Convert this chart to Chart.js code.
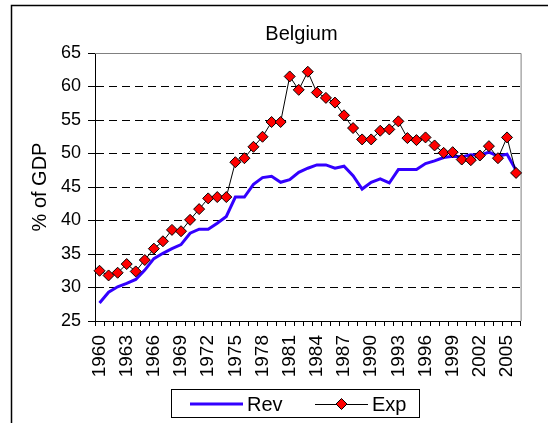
<!DOCTYPE html>
<html>
<head>
<meta charset="utf-8">
<script src="https://cdn.jsdelivr.net/npm/chart.js@4"></script>
<style>
  html, body { margin: 0; padding: 0; background: #fff; overflow: hidden; }
  canvas { display: block; }
</style>
</head>
<body>
<canvas id="myChart" width="548" height="423"></canvas>
<script>
const years = ["1960","1961","1962","1963","1964","1965","1966","1967","1968","1969",
  "1970","1971","1972","1973","1974","1975","1976","1977","1978","1979",
  "1980","1981","1982","1983","1984","1985","1986","1987","1988","1989",
  "1990","1991","1992","1993","1994","1995","1996","1997","1998","1999",
  "2000","2001","2002","2003","2004","2005","2006"];

const shownYears = ["1960","1963","1966","1969","1972","1975","1978","1981","1984",
  "1987","1990","1993","1996","1999","2002","2005"];

const rev = [27.7, 29.3, 30.1, 30.6, 31.2, 32.6, 34.3, 35.1, 35.8, 36.4,
  38.1, 38.7, 38.7, 39.6, 40.6, 43.5, 43.5, 45.4, 46.4, 46.6,
  45.7, 46.1, 47.2, 47.8, 48.3, 48.3, 47.8, 48.1, 46.7, 44.7,
  45.7, 46.2, 45.6, 47.6, 47.6, 47.6, 48.5, 48.9, 49.4, 49.6,
  49.5, 49.8, 49.7, 50.2, 49.6, 49.9, 47.5];

const exp = [32.5, 31.8, 32.2, 33.5, 32.4, 34.1, 35.8, 36.9, 38.6, 38.4,
  40.1, 41.7, 43.3, 43.5, 43.5, 48.7, 49.3, 51.0, 52.5, 54.7,
  54.7, 61.5, 59.5, 62.2, 59.1, 58.3, 57.6, 55.7, 53.8, 52.1,
  52.1, 53.4, 53.6, 54.8, 52.3, 52.0, 52.4, 51.2, 50.1, 50.2,
  49.1, 49.0, 49.7, 51.1, 49.3, 52.4, 47.1];

const yMin = 25;
const yMax = 65;
const yStep = 5;

const FONT = "'Liberation Sans', Arial, sans-serif";
const REV_COLOR = "#3300ff";
const EXP_FILL = "#ff0000";

// frame, title, plot border and boxed legend like the spreadsheet original
const decor = {
  id: "decor",
  beforeDatasetsDraw(chart) {
    const { ctx, chartArea: a } = chart;
    ctx.save();
    ctx.strokeStyle = "#808080";
    ctx.lineWidth = 1;
    ctx.beginPath();
    ctx.moveTo(a.left, a.top + 0.5);
    ctx.lineTo(a.right + 0.5, a.top + 0.5);
    ctx.lineTo(a.right + 0.5, a.bottom);
    ctx.stroke();
    ctx.restore();
  },
  afterDraw(chart) {
    const ctx = chart.ctx;
    ctx.save();
    // outer frame
    ctx.strokeStyle = "#000";
    ctx.lineWidth = 1.5;
    ctx.strokeRect(11.5, 5.5, 700, 600);

    // title
    ctx.fillStyle = "#000";
    ctx.font = "20px " + FONT;
    ctx.textAlign = "center";
    ctx.textBaseline = "alphabetic";
    ctx.fillText("Belgium", 301.5, 40);

    // legend
    ctx.lineWidth = 1;
    ctx.strokeStyle = "#000";
    ctx.strokeRect(171.5, 389.5, 248, 28);
    const ly = 404;
    ctx.strokeStyle = REV_COLOR;
    ctx.lineWidth = 3;
    ctx.beginPath();
    ctx.moveTo(190, ly);
    ctx.lineTo(243, ly);
    ctx.stroke();
    ctx.strokeStyle = "#000";
    ctx.lineWidth = 1;
    ctx.beginPath();
    ctx.moveTo(315, ly + 0.5);
    ctx.lineTo(368, ly + 0.5);
    ctx.stroke();
    ctx.fillStyle = EXP_FILL;
    ctx.beginPath();
    ctx.moveTo(341.5, ly - 5.5);
    ctx.lineTo(347, ly);
    ctx.lineTo(341.5, ly + 5.5);
    ctx.lineTo(336, ly);
    ctx.closePath();
    ctx.fill();
    ctx.stroke();
    ctx.fillStyle = "#000";
    ctx.font = "20px " + FONT;
    ctx.textAlign = "left";
    ctx.textBaseline = "middle";
    ctx.fillText("Rev", 247, ly + 1);
    ctx.fillText("Exp", 372, ly + 1);
    ctx.restore();
  }
};

new Chart(document.getElementById("myChart"), {
  type: "line",
  data: {
    labels: years,
    datasets: [
      {
        label: "Rev",
        data: rev,
        borderColor: REV_COLOR,
        borderWidth: 3,
        pointRadius: 0,
        pointHoverRadius: 0,
        tension: 0,
        fill: false,
        order: 2,
      },
      {
        label: "Exp",
        data: exp,
        borderColor: "#000",
        borderWidth: 1,
        pointStyle: "rectRot",
        pointRadius: 5.5,
        pointBackgroundColor: EXP_FILL,
        pointBorderColor: "#000",
        pointBorderWidth: 1,
        tension: 0,
        fill: false,
        order: 1,
      },
    ],
  },
  options: {
    responsive: false,
    animation: false,
    devicePixelRatio: 1,
    layout: { padding: { left: 11, right: 12, top: 53, bottom: 0 } },
    plugins: {
      legend: { display: false },
      title: { display: false },
      tooltip: { enabled: false },
    },
    scales: {
      x: {
        type: "category",
        offset: true,
        afterFit: (scale) => { scale.height = 102; },
        grid: {
          offset: true,
          drawOnChartArea: false,
          drawTicks: true,
          tickLength: 5,
          tickColor: "#000",
        },
        border: { display: true, color: "#000", width: 1 },
        ticks: {
          autoSkip: false,
          minRotation: 90,
          maxRotation: 90,
          padding: 9,
          color: "#000",
          font: { family: FONT, size: 19 },
          callback: function (val, idx) {
            const y = years[idx];
            return shownYears.includes(y) ? y : "";
          },
        },
      },
      y: {
        min: yMin,
        max: yMax,
        afterFit: (scale) => { scale.width = 84; },
        grid: {
          drawTicks: true,
          tickLength: 7,
          tickColor: "#000",
          color: (c) => {
            if (c.tick && c.tick.value === yMin) return "rgba(0,0,0,0)";
            if (c.tick && c.tick.value === yMax) return "#808080";
            return "#000";
          },
        },
        border: { display: true, color: "#000", width: 1, dash: [8, 5] },
        ticks: {
          stepSize: yStep,
          padding: 7,
          color: "#000",
          font: { family: FONT, size: 18 },
        },
        title: {
          display: true,
          text: "% of GDP",
          color: "#000",
          font: { family: FONT, size: 20 },
          padding: { top: 17, bottom: 0 },
        },
      },
    },
  },
  plugins: [decor],
});
</script>
</body>
</html>
